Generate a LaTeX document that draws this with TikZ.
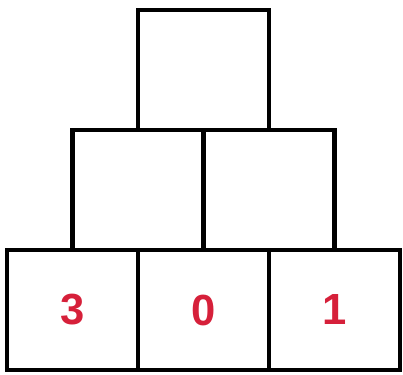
\documentclass[tikz,border=0pt]{standalone}
\usepackage{fontspec}
\setmainfont{Liberation Sans}
\usepackage{xcolor}
\definecolor{numred}{RGB}{214,32,58}
\usetikzlibrary{positioning}

\begin{document}
\begin{tikzpicture}[node distance=0pt,
  box/.style={draw, line width=3.5pt, minimum width=3.275cm, minimum height=3cm, inner sep=0pt, outer sep=0pt},
  num/.style={font=\fontsize{31}{31}\selectfont\bfseries, text=numred}]
  \node[box] (b1) at (0,0) {};
  \node[box, right=of b1] (b2) {};
  \node[box, right=of b2] (b3) {};
  \node[num] (n1) at (b1.center) {3};
  \node[num] (n2) at (b2.center) {0};
  \node[num] (n3) at (b3.center) {1};
  \node[box, anchor=south west] (m1) at (b1.north) {};
  \node[box, anchor=south west] (m2) at (b2.north) {};
  \node[box, anchor=south west] (top) at (m1.north) {};
  \useasboundingbox ([shift={(-0.175cm,-0.1cm)}]b1.south west) rectangle ++(10.075cm,9.35cm);
\end{tikzpicture}
\end{document}
